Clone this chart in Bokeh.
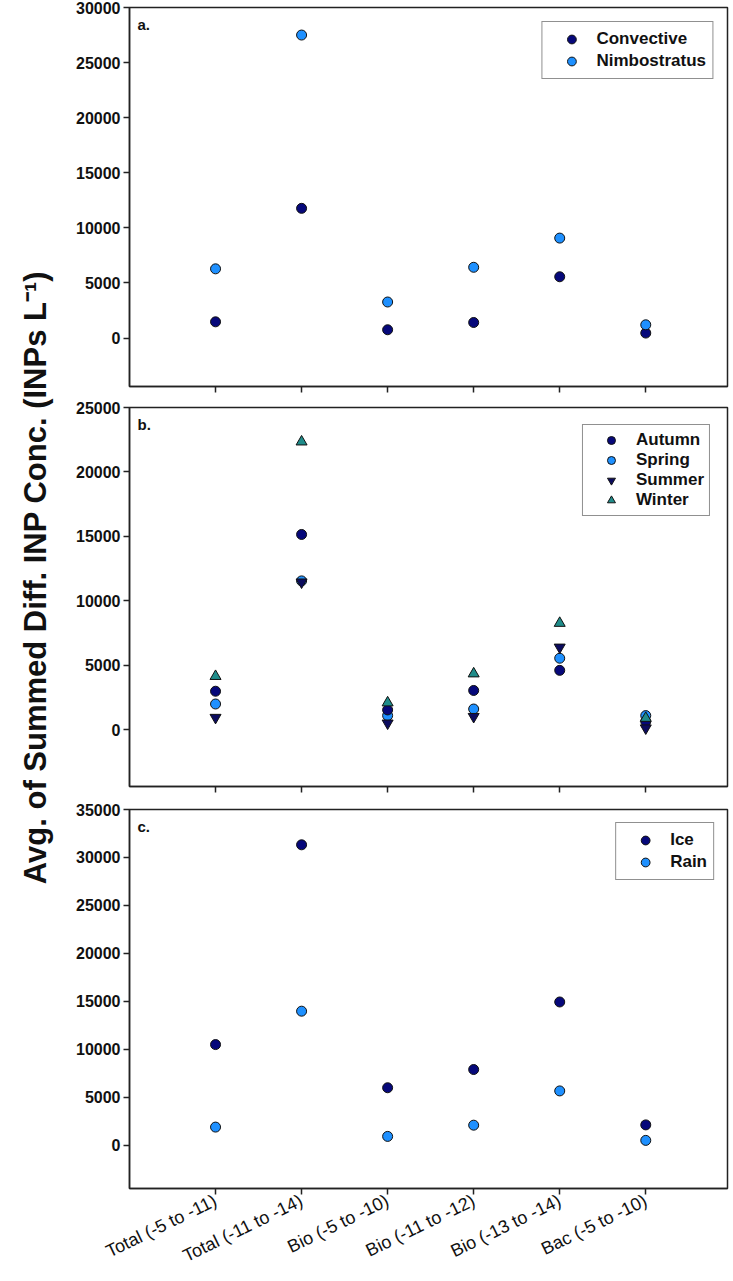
import math
from bokeh.plotting import figure
from bokeh.models import (ColumnDataSource, FixedTicker, Legend, LegendItem, Label, Range1d)
from bokeh.layouts import row, column
from bokeh.embed import file_html
from bokeh.resources import INLINE

# ---------------- data ----------------
categories = ["Total (-5 to -11)", "Total (-11 to -14)", "Bio (-5 to -10)",
              "Bio (-11 to -12)", "Bio (-13 to -14)", "Bac (-5 to -10)"]

# panel a: cloud type
convective = [1470, 11770, 750, 1410, 5560, 450]
nimbostratus = [6280, 27500, 3270, 6420, 9070, 1200]

# panel b: season
autumn = [2990, 15150, 1540, 3050, 4610, 640]
spring = [2000, 11550, 1100, 1610, 5550, 1100]
summer = [950, 11450, 510, 1020, 6400, 130]
winter = [4150, 22340, 2100, 4350, 8270, 900]

# panel c: precipitation phase
ice = [10500, 31320, 6000, 7900, 14940, 2130]
rain = [1900, 13980, 930, 2100, 5670, 515]

ticks_a = [0, 5000, 10000, 15000, 20000, 25000, 30000]
ticks_b = [0, 5000, 10000, 15000, 20000, 25000]
ticks_c = [0, 5000, 10000, 15000, 20000, 25000, 30000, 35000]

y_title = "Avg. of Summed Diff. INP Conc. (INPs L\u207b\u00b9)"

# ---------------- style ----------------
DARK = "#06087a"
LIGHT = "#1e90ff"
TEAL = "#1f8c8a"
NAVY = "#0b0b5e"
AXIS = "#222222"
FONT = "Liberation Sans"

xpos = list(range(1, len(categories) + 1))
TITLE_W = 60
PANEL_W = 672
FRAME_H = 379


def make_panel(ymin, ymax, ticks, top, bottom, letter, show_labels):
    p = figure(width=PANEL_W, height=top + FRAME_H + bottom,
               output_backend="svg", toolbar_location=None,
               x_range=Range1d(0, 6.95), y_range=Range1d(ymin, ymax),
               min_border_left=69, min_border_right=5,
               min_border_top=top, min_border_bottom=bottom)
    p.xgrid.visible = False
    p.ygrid.visible = False
    p.outline_line_color = AXIS
    p.outline_line_width = 1.5
    p.background_fill_color = "white"
    p.border_fill_color = "white"

    for ax in (p.xaxis[0], p.yaxis[0]):
        ax.axis_line_color = AXIS
        ax.axis_line_width = 1.5
        ax.major_tick_line_color = AXIS
        ax.major_tick_line_width = 1.5
        ax.major_tick_out = 6
        ax.major_tick_in = 0
        ax.minor_tick_line_color = None

    p.yaxis.ticker = FixedTicker(ticks=ticks)
    p.yaxis.major_label_text_font = FONT
    p.yaxis.major_label_text_font_style = "bold"
    p.yaxis.major_label_text_font_size = "16px"
    p.yaxis.major_label_text_color = "#111111"
    p.yaxis.major_label_standoff = 3

    p.xaxis.ticker = FixedTicker(ticks=xpos)
    if show_labels:
        p.xaxis.major_label_overrides = {i: c for i, c in zip(xpos, categories)}
        p.xaxis.major_label_orientation = math.radians(26)
        p.xaxis.major_label_text_font = FONT
        p.xaxis.major_label_text_font_size = "18px"
        p.xaxis.major_label_text_color = "#111111"
        p.xaxis.major_label_standoff = 5
    else:
        p.xaxis.major_label_overrides = {i: "" for i in xpos}
        p.xaxis.major_label_standoff = 0

    p.add_layout(Label(x=0, y=ymax, x_offset=8, y_offset=-17, text=letter,
                       text_font=FONT, text_font_style="bold",
                       text_font_size="15px", text_baseline="middle",
                       text_color="#111111"))
    return p


def add_legend(p, items, row_h=22, pad=6, margin=14):
    leg = Legend(items=items, location="top_right", margin=margin, padding=pad,
                 spacing=0, glyph_width=46, glyph_height=row_h, label_height=row_h,
                 label_standoff=2, label_text_font=FONT,
                 label_text_font_style="bold", label_text_font_size="17px",
                 label_text_color="#111111",
                 border_line_color=AXIS, border_line_width=1.5,
                 background_fill_color="white", background_fill_alpha=1.0)
    p.add_layout(leg)


def pts(p, values, color, marker="circle", size=10):
    src = ColumnDataSource(dict(x=xpos, y=values))
    return p.scatter("x", "y", source=src, marker=marker, size=size,
                     fill_color=color, line_color="#111111", line_width=1)


# panel a
pa = make_panel(-4400, 30000, ticks_a, 7, 10, "a.", False)
r1 = pts(pa, convective, DARK)
r2 = pts(pa, nimbostratus, LIGHT)
add_legend(pa, [LegendItem(label="Convective", renderers=[r1]),
                LegendItem(label="Nimbostratus", renderers=[r2])])

# panel b
pb = make_panel(-4400, 25000, ticks_b, 11, 10, "b.", False)
rb2 = pts(pb, spring, LIGHT)
rb1 = pts(pb, autumn, DARK)
rb3 = pts(pb, summer, NAVY, marker="inverted_triangle", size=11)
rb4 = pts(pb, winter, TEAL, marker="triangle", size=11)
add_legend(pb, [LegendItem(label="Autumn", renderers=[rb1]),
                LegendItem(label="Spring", renderers=[rb2]),
                LegendItem(label="Summer", renderers=[rb3]),
                LegendItem(label="Winter", renderers=[rb4])],
           row_h=20, pad=5, margin=17)

# panel c
pc = make_panel(-4500, 35000, ticks_c, 13, 91, "c.", True)
rc1 = pts(pc, ice, DARK)
rc2 = pts(pc, rain, LIGHT)
add_legend(pc, [LegendItem(label="Ice", renderers=[rc1]),
                LegendItem(label="Rain", renderers=[rc2])], margin=13)

total_h = pa.height + pb.height + pc.height

# y-axis title panel
pt = figure(width=TITLE_W, height=total_h, output_backend="svg", toolbar_location=None,
            x_range=Range1d(0, TITLE_W), y_range=Range1d(0, total_h),
            x_axis_location=None, y_axis_location=None, min_border=0)
pt.outline_line_color = None
pt.xgrid.visible = False
pt.ygrid.visible = False
pt.add_layout(Label(x=35, y=total_h - 577, text=y_title, angle=math.pi / 2,
                    text_align="center", text_baseline="middle",
                    text_font=FONT, text_font_style="bold",
                    text_font_size="31px", text_color="#111111"))

layout = row(pt, column(pa, pb, pc, spacing=0), spacing=0)

open("out.html", "w").write(file_html(layout, INLINE))
